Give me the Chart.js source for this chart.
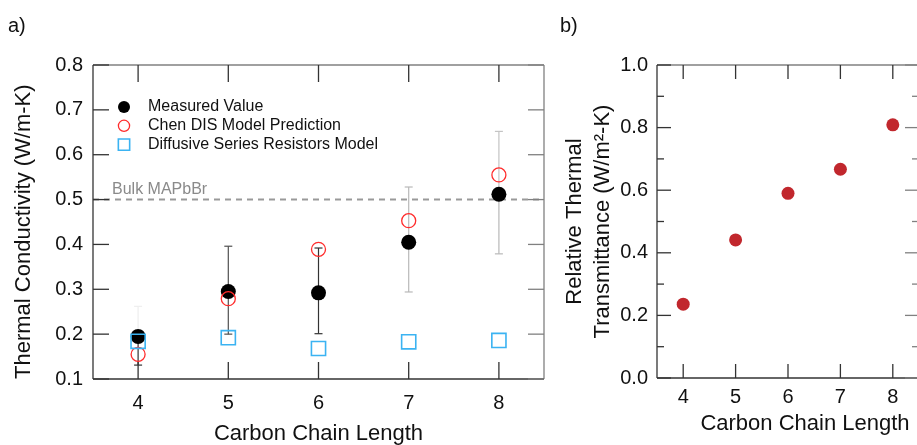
<!DOCTYPE html>
<html>
<head>
<meta charset="utf-8">
<script src="https://cdn.jsdelivr.net/npm/chart.js@4.4.1/dist/chart.umd.min.js"></script>
<style>
  html, body { margin: 0; padding: 0; background: #fff; overflow: hidden; }
  #wrap { position: relative; width: 917px; height: 445px; overflow: hidden; }
  #chartA { position: absolute; left: 0; top: 0; }
  #chartB { position: absolute; left: 560px; top: 0; }
</style>
</head>
<body>
<div id="wrap">
  <canvas id="chartA" width="560" height="445" style="width:560px;height:445px"></canvas>
  <canvas id="chartB" width="380" height="445" style="width:380px;height:445px"></canvas>
</div>
<script>
// ---- data ----
const chainLength = [4, 5, 6, 7, 8];
const xRange = [3.5, 8.5];

// panel a) thermal conductivity, W/m-K
const measured = [0.195, 0.295, 0.292, 0.405, 0.512];
const measuredLow = [0.131, 0.200, 0.201, 0.294, 0.379];
const measuredHigh = [0.262, 0.396, 0.392, 0.528, 0.652];
const chenDIS = [0.155, 0.279, 0.389, 0.453, 0.555];
const diffusive = [0.184, 0.192, 0.168, 0.183, 0.186];
const bulkMAPbBr = 0.5;
const bulkLabel = 'Bulk MAPbBr';
const yTicksA = [0.1, 0.2, 0.3, 0.4, 0.5, 0.6, 0.7, 0.8];

// panel b) relative thermal transmittance
const transmittance = [0.236, 0.441, 0.590, 0.667, 0.809];
const yTicksB = [0.0, 0.2, 0.4, 0.6, 0.8, 1.0];
const yMinorB = [0.1, 0.3, 0.5, 0.7, 0.9];

// error bar colours (the figure fades some of them)
const errUpColor = ['#eeeeee', '#505050', '#333333', '#b8b8b8', '#c4c4c4'];
const errDownColor = ['#333333', '#505050', '#333333', '#b8b8b8', '#b8b8b8'];

const FONT = "'Liberation Sans', Arial, Helvetica, sans-serif";
Chart.defaults.font.family = FONT;
Chart.defaults.color = '#111';

const pts = (ys) => chainLength.map((c, i) => ({ x: c, y: ys[i] }));

// box round the plot with inward ticks on all four sides
const framePlugin = {
  id: 'frame',
  afterDatasetsDraw(chart, args, o) {
    const { ctx, chartArea: a, scales: { x, y } } = chart;
    ctx.save();
    ctx.lineWidth = 1.3;
    const line = (x1, y1, x2, y2, c) => {
      ctx.strokeStyle = c;
      ctx.beginPath(); ctx.moveTo(x1, y1); ctx.lineTo(x2, y2); ctx.stroke();
    };
    line(a.left, a.top, a.right, a.top, o.light);
    line(a.right, a.top, a.right, a.bottom, o.light);
    line(a.left, a.top, a.left, a.bottom, o.dark);
    line(a.left, a.bottom, a.right, a.bottom, o.dark);
    x.ticks.forEach(t => {
      const px = x.getPixelForValue(t.value);
      line(px, a.bottom, px, a.bottom - o.tickX, o.dark);
      line(px, a.top, px, a.top + o.tickX, o.dark);
    });
    y.ticks.forEach(t => {
      const py = y.getPixelForValue(t.value);
      line(a.left, py, a.left + o.tickY, py, o.dark);
      line(a.right, py, a.right - o.tickY, py, o.light);
    });
    (o.minor || []).forEach(v => {
      const py = y.getPixelForValue(v);
      line(a.left, py, a.left + o.tickY / 2, py, o.dark);
      line(a.right, py, a.right - o.tickY / 2, py, o.light);
    });
    ctx.restore();
  }
};

// "a)" / "b)" tags, and an optional x caption placed off-centre
const tagPlugin = {
  id: 'tag',
  afterDraw(chart, args, o) {
    const ctx = chart.ctx;
    ctx.save();
    ctx.font = '20px ' + FONT;
    ctx.fillStyle = '#111';
    ctx.textBaseline = 'alphabetic';
    ctx.fillText(o.text, o.x, 32);
    if (o.caption) {
      ctx.font = '22px ' + FONT;
      ctx.textAlign = 'center';
      ctx.textBaseline = 'middle';
      ctx.fillText(o.caption, chart.chartArea.left + o.captionX, chart.chartArea.bottom + o.captionY);
    }
    ctx.restore();
  }
};

// vertical error bars on the measured points
const errorBarPlugin = {
  id: 'errorBars',
  beforeDatasetsDraw(chart) {
    const { ctx, scales: { x, y } } = chart;
    ctx.save();
    ctx.lineWidth = 1.2;
    const seg = (x1, y1, x2, y2, c) => {
      ctx.strokeStyle = c;
      ctx.beginPath(); ctx.moveTo(x1, y1); ctx.lineTo(x2, y2); ctx.stroke();
    };
    chainLength.forEach((c, i) => {
      const px = x.getPixelForValue(c);
      const pm = y.getPixelForValue(measured[i]);
      const ph = y.getPixelForValue(measuredHigh[i]);
      const pl = y.getPixelForValue(measuredLow[i]);
      seg(px, pm, px, ph, errUpColor[i]);
      seg(px - 4, ph, px + 4, ph, errUpColor[i]);
      seg(px, pm, px, pl, errDownColor[i]);
      seg(px - 4, pl, px + 4, pl, errDownColor[i]);
    });
    ctx.restore();
  }
};

// legend drawn inside the plot, top left, plus the bulk line label
const insideLegendPlugin = {
  id: 'insideLegend',
  afterDraw(chart, args, o) {
    const { ctx, chartArea: a, scales: { y } } = chart;
    ctx.save();
    ctx.font = '16px ' + FONT;
    ctx.textBaseline = 'middle';
    chart.data.datasets.filter(d => d.inLegend).forEach((d, i) => {
      const yy = a.top + 42 + i * 18.8;
      ctx.fillStyle = d.pointBackgroundColor;
      ctx.strokeStyle = d.pointBorderColor;
      ctx.lineWidth = d.pointBorderWidth;
      Chart.helpers.drawPoint(ctx, {
        pointStyle: d.pointStyle,
        radius: d.pointRadius * 0.8,
        borderWidth: d.pointBorderWidth,
        rotation: 0
      }, a.left + 31, yy);
      ctx.fillStyle = '#111';
      ctx.fillText(d.label, a.left + 55, yy);
    });
    ctx.font = '16px ' + FONT;
    ctx.fillStyle = '#8a8a8a';
    ctx.textBaseline = 'alphabetic';
    ctx.fillText(bulkLabel, a.left + 19, y.getPixelForValue(bulkMAPbBr) - 6);
    ctx.restore();
  }
};

new Chart(document.getElementById('chartA'), {
  type: 'scatter',
  data: {
    datasets: [
      {
        label: 'Measured Value',
        data: pts(measured),
        pointStyle: 'circle',
        pointRadius: 7.5,
        pointBackgroundColor: '#000',
        pointBorderColor: '#000',
        pointBorderWidth: 0,
        inLegend: true,
        order: 3
      },
      {
        label: 'Chen DIS Model Prediction',
        data: pts(chenDIS),
        pointStyle: 'circle',
        pointRadius: 7,
        pointBackgroundColor: 'rgba(0,0,0,0)',
        pointBorderColor: '#ff2b2b',
        pointBorderWidth: 1.3,
        inLegend: true,
        order: 2
      },
      {
        label: 'Diffusive Series Resistors Model',
        data: pts(diffusive),
        pointStyle: 'rect',
        pointRadius: 10,
        pointBackgroundColor: 'rgba(0,0,0,0)',
        pointBorderColor: '#3bb3f2',
        pointBorderWidth: 1.6,
        inLegend: true,
        order: 1
      },
      {
        type: 'line',
        label: bulkLabel,
        data: xRange.map(v => ({ x: v, y: bulkMAPbBr })),
        borderColor: '#999',
        borderWidth: 2,
        borderDash: [6, 5],
        pointRadius: 0,
        order: 4
      }
    ]
  },
  options: {
    responsive: false,
    animation: false,
    layout: { padding: { top: 65, right: 16, left: 0, bottom: 0 } },
    plugins: {
      legend: { display: false },
      tooltip: { enabled: false },
      frame: { dark: '#333', light: '#808080', tickX: 17, tickY: 16 },
      tag: { text: 'a)', x: 8 }
    },
    scales: {
      x: {
        type: 'linear',
        min: xRange[0],
        max: xRange[1],
        afterBuildTicks: s => { s.ticks = chainLength.map(v => ({ value: v })); },
        afterFit: s => { s.height = 66; },
        grid: { display: false, drawTicks: false },
        border: { display: false },
        ticks: { font: { size: 20 }, color: '#111', padding: 12 },
        title: {
          display: true,
          text: 'Carbon Chain Length',
          font: { size: 22, lineHeight: 1 },
          color: '#111',
          padding: { top: 0, bottom: 0 }
        }
      },
      y: {
        type: 'linear',
        min: 0.1,
        max: 0.8,
        afterBuildTicks: s => { s.ticks = yTicksA.map(v => ({ value: v })); },
        afterFit: s => { s.width = 93; },
        grid: { display: false, drawTicks: false },
        border: { display: false },
        ticks: { font: { size: 20 }, color: '#111', padding: 10, callback: v => v.toFixed(1) },
        title: {
          display: true,
          text: 'Thermal Conductivity (W/m-K)',
          align: 'start',
          font: { size: 22, lineHeight: 1 },
          color: '#111',
          padding: { top: 13, bottom: 0 }
        }
      }
    }
  },
  plugins: [errorBarPlugin, framePlugin, insideLegendPlugin, tagPlugin]
});

new Chart(document.getElementById('chartB'), {
  type: 'scatter',
  data: {
    datasets: [
      {
        label: 'Relative Thermal Transmittance',
        data: pts(transmittance),
        pointStyle: 'circle',
        pointRadius: 6.5,
        pointBackgroundColor: '#c1272d',
        pointBorderColor: '#c1272d',
        pointBorderWidth: 0
      }
    ]
  },
  options: {
    responsive: false,
    animation: false,
    layout: { padding: { top: 65, right: 21, left: 0, bottom: 0 } },
    plugins: {
      legend: { display: false },
      tooltip: { enabled: false },
      frame: { dark: '#333', light: '#808080', tickX: 14, tickY: 14, minor: yMinorB },
      // x caption sits right of the axis centre in the figure
      tag: { text: 'b)', x: 0, caption: 'Carbon Chain Length', captionX: 148, captionY: 46 }
    },
    scales: {
      x: {
        type: 'linear',
        min: xRange[0],
        max: xRange[1],
        afterBuildTicks: s => { s.ticks = chainLength.map(v => ({ value: v })); },
        afterFit: s => { s.height = 67; },
        grid: { display: false, drawTicks: false },
        border: { display: false },
        ticks: { font: { size: 20 }, color: '#111', padding: 7 }
      },
      y: {
        type: 'linear',
        min: 0,
        max: 1,
        afterBuildTicks: s => { s.ticks = yTicksB.map(v => ({ value: v })); },
        afterFit: s => { s.width = 97; },
        grid: { display: false, drawTicks: false },
        border: { display: false },
        ticks: { font: { size: 20 }, color: '#111', padding: 9, callback: v => v.toFixed(1) },
        title: {
          display: true,
          text: ['Relative Thermal', 'Transmittance (W/m\u00B2-K)'],
          font: { size: 22, lineHeight: 1.27 },
          color: '#111',
          padding: { top: 1, bottom: 0 }
        }
      }
    }
  },
  plugins: [framePlugin, tagPlugin]
});
</script>
</body>
</html>
